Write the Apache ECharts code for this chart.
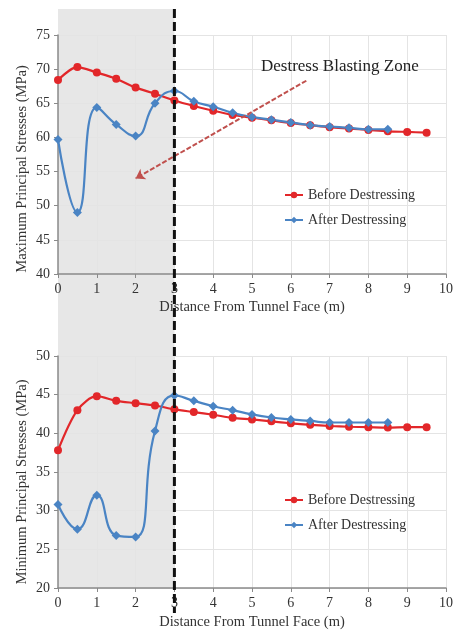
<!DOCTYPE html>
<html>
<head>
<meta charset="utf-8">
<script src="https://cdn.jsdelivr.net/npm/echarts@6/dist/echarts.min.js"></script>
<style>
  html, body { margin: 0; padding: 0; background: #fff; }
  #chart { width: 456px; height: 630px; }
</style>
</head>
<body>
<div id="chart"></div>
<script>
// distance from tunnel face (m)
var xBefore = [0, 0.5, 1, 1.5, 2, 2.5, 3, 3.5, 4, 4.5, 5, 5.5, 6, 6.5, 7, 7.5, 8, 8.5, 9, 9.5]
var xAfter = [0, 0.5, 1, 1.5, 2, 2.5, 3, 3.5, 4, 4.5, 5, 5.5, 6, 6.5, 7, 7.5, 8, 8.5]

// maximum principal stresses (MPa)
var maxBefore = [68.4, 70.3, 69.5, 68.6, 67.3, 66.4, 65.4, 64.6, 63.9, 63.3, 62.9, 62.5, 62.1, 61.8, 61.5, 61.3, 61.1, 60.9, 60.8, 60.7]
var maxAfter = [59.7, 49.0, 64.4, 61.9, 60.2, 65.0, 66.8, 65.3, 64.5, 63.6, 63.0, 62.6, 62.2, 61.8, 61.6, 61.4, 61.2, 61.2]

// minimum principal stresses (MPa)
var minBefore = [37.8, 43.0, 44.8, 44.2, 43.9, 43.6, 43.1, 42.75, 42.4, 42.0, 41.8, 41.55, 41.3, 41.1, 40.95, 40.85, 40.8, 40.75, 40.8, 40.8]
var minAfter = [30.8, 27.6, 32.0, 26.8, 26.6, 40.3, 44.9, 44.2, 43.5, 43.0, 42.45, 42.05, 41.8, 41.6, 41.4, 41.4, 41.4, 41.4]

// annotation: blasting zone ends at 3 m, arrow from label towards the zone
var zoneEnd = 3
var arrowFrom = [6.4, 68.3]
var arrowTo = [2.0, 54.0]

var RED = '#e2272a'
var BLUE = '#4a84c4'
var FONT = 'Liberation Serif'

function pairs(xs, ys) {
  return xs.map(function (x, i) { return [x, ys[i]] })
}

function xAxisCfg(idx) {
  return {
    type: 'value', gridIndex: idx, min: 0, max: 10, interval: 1,
    axisLine: { show: true, lineStyle: { color: '#8a8a8a', width: 1.5 } },
    axisTick: { show: true, length: 4, lineStyle: { color: '#8a8a8a' } },
    axisLabel: { color: '#333', fontFamily: FONT, fontSize: 14, margin: 8 },
    splitLine: { show: true, lineStyle: { color: '#e4e4e4' } }
  }
}

function yAxisCfg(idx, min, max) {
  return {
    type: 'value', gridIndex: idx, min: min, max: max, interval: 5,
    axisLine: { show: true, lineStyle: { color: '#8a8a8a', width: 1.5 } },
    axisTick: { show: true, length: 4, lineStyle: { color: '#8a8a8a' } },
    axisLabel: { color: '#333', fontFamily: FONT, fontSize: 14, margin: 8 },
    splitLine: { show: true, lineStyle: { color: '#e4e4e4' } }
  }
}

function legendCfg(top) {
  return {
    orient: 'vertical', left: 279, top: top, itemGap: 11,
    itemWidth: 18, itemHeight: 8,
    textStyle: { color: '#333', fontFamily: FONT, fontSize: 14 },
    data: ['Before Destressing', 'After Destressing']
  }
}

var chart = echarts.init(document.getElementById('chart'))

var option = {
  animation: false,
  backgroundColor: '#fff',
  grid: [
    { left: 58, top: 35, width: 388, height: 239 },
    { left: 58, top: 356, width: 388, height: 232 }
  ],
  xAxis: [xAxisCfg(0), xAxisCfg(1)],
  yAxis: [yAxisCfg(0, 40, 75), yAxisCfg(1, 20, 50)],
  legend: [legendCfg(183), legendCfg(488)],
  series: [
    {
      name: 'Before Destressing', type: 'line', xAxisIndex: 0, yAxisIndex: 0,
      data: pairs(xBefore, maxBefore), smooth: 0.3,
      symbol: 'circle', symbolSize: 8, color: RED, lineStyle: { width: 2.2 },
      markLine: {
        silent: true, symbol: ['none', 'arrow'], symbolSize: 9, label: { show: false },
        lineStyle: { color: '#c0504d', type: [5, 2], width: 2 },
        data: [[{ coord: arrowFrom }, { coord: arrowTo }]]
      }
    },
    {
      name: 'After Destressing', type: 'line', xAxisIndex: 0, yAxisIndex: 0,
      data: pairs(xAfter, maxAfter), smooth: 0.5,
      symbol: 'diamond', symbolSize: 9, color: BLUE, lineStyle: { width: 2.2 }
    },
    {
      name: 'Before Destressing', type: 'line', xAxisIndex: 1, yAxisIndex: 1,
      data: pairs(xBefore, minBefore), smooth: 0.3,
      symbol: 'circle', symbolSize: 8, color: RED, lineStyle: { width: 2.2 }
    },
    {
      name: 'After Destressing', type: 'line', xAxisIndex: 1, yAxisIndex: 1,
      data: pairs(xAfter, minAfter), smooth: 0.5,
      symbol: 'diamond', symbolSize: 9, color: BLUE, lineStyle: { width: 2.2 }
    }
  ]
}
chart.setOption(option)

// gray band + dashed boundary, placed from the axes' own scales
var x0 = chart.convertToPixel({ xAxisIndex: 0 }, 0)
var x3 = chart.convertToPixel({ xAxisIndex: 0 }, zoneEnd)
var yBottom = chart.convertToPixel({ yAxisIndex: 1 }, 20)

chart.setOption({
  graphic: [
    {
      type: 'rect', z: -10, silent: true,
      shape: { x: x0, y: 9, width: x3 - x0, height: yBottom - 9 },
      style: { fill: '#e7e7e7' }
    },
    {
      type: 'line', z: 50, silent: true,
      shape: { x1: x3, y1: 9, x2: x3, y2: 613 },
      style: { stroke: '#111', lineWidth: 3, lineDash: [9, 4] }
    },
    {
      type: 'text', left: 261, top: 58, silent: true,
      style: { text: 'Destress Blasting Zone', fill: '#222', font: '17px "Liberation Serif"' }
    },
    {
      type: 'text', x: 22, y: 169, rotation: Math.PI / 2, silent: true,
      style: { text: 'Maximum Principal Stresses (MPa)', fill: '#333', font: '14.5px "Liberation Serif"', align: 'center', verticalAlign: 'middle' }
    },
    {
      type: 'text', x: 22, y: 482, rotation: Math.PI / 2, silent: true,
      style: { text: 'Minimum Principal Stresses (MPa)', fill: '#333', font: '14.5px "Liberation Serif"', align: 'center', verticalAlign: 'middle' }
    },
    {
      type: 'text', x: 252, y: 307, silent: true,
      style: { text: 'Distance From Tunnel Face (m)', fill: '#333', font: '14.5px "Liberation Serif"', align: 'center', verticalAlign: 'middle' }
    },
    {
      type: 'text', x: 252, y: 622, silent: true,
      style: { text: 'Distance From Tunnel Face (m)', fill: '#333', font: '14.5px "Liberation Serif"', align: 'center', verticalAlign: 'middle' }
    }
  ]
})
</script>
</body>
</html>
